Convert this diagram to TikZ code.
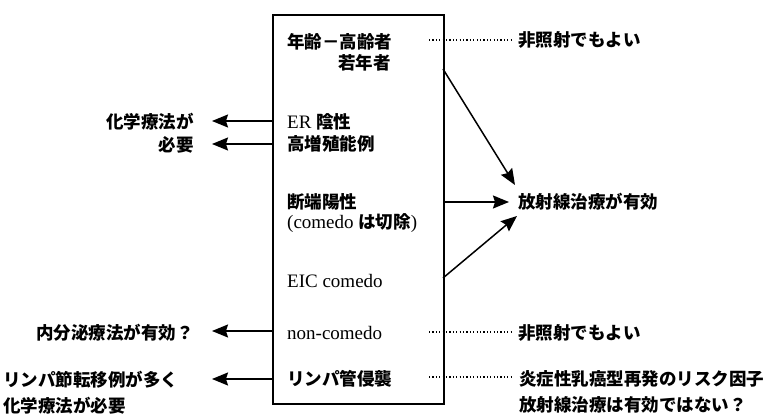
\documentclass[tikz,border=0pt]{standalone}
\usepackage{fontspec}
\setmainfont{Liberation Serif}
\newfontfamily\jpfam{Noto Sans CJK JP}
\usetikzlibrary{arrows.meta}
\newcommand{\J}[1]{{\fontsize{17.5}{20}\selectfont\jpfam\bfseries #1}}
\begin{document}
\begin{tikzpicture}[x=1pt,y=-1pt,
  txt/.style={inner sep=0pt, font=\fontsize{19}{22}\selectfont},
  arr/.style={line width=1.5pt, -{Stealth[length=16pt,width=13pt,inset=2pt]}},
  dots/.style={line width=1.3pt, dash pattern=on 1.2pt off 2.2pt},
  boxst/.style={draw, line width=1.8pt, inner sep=0pt, minimum width=171pt, minimum height=389pt, anchor=north west}]
\useasboundingbox (0,0) rectangle (779,419);
% box
\node[boxst] (box) at (272,14) {};
% inside texts
\node[txt,anchor=west] (a1) at (287,42) {\J{年齢－高齢者}};
\node[txt,anchor=west] (a2) at (338,63) {\J{若年者}};
\node[txt,anchor=west] (b1) at (287,122) {ER \J{陰性}};
\node[txt,anchor=west] (b2) at (287,144) {\J{高増殖能例}};
\node[txt,anchor=west] (c1) at (287,202) {\J{断端陽性}};
\node[txt,anchor=west] (c2) at (287,223) {(comedo \J{は切除})};
\node[txt,anchor=west] (d1) at (287,281) {EIC comedo};
\node[txt,anchor=west] (e1) at (287,333) {non-comedo};
\node[txt,anchor=west] (f1) at (287,379) {\J{リンパ管侵襲}};
% left labels
\node[txt,anchor=east] (L1) at (194,122) {\J{化学療法が}};
\node[txt,anchor=east] (L2) at (194,145) {\J{必要}};
\node[txt,anchor=east] (L3) at (194,333) {\J{内分泌療法が有効？}};
\node[txt,anchor=west] (L4) at (3,380) {\J{リンパ節転移例が多く}};
\node[txt,anchor=west] (L5) at (3,406) {\J{化学療法が必要}};
\coordinate (t1) at (212,121);
\coordinate (t2) at (212,144);
\coordinate (t3) at (212,331);
\coordinate (t4) at (212,379);
\draw[arr] (box.west |- t1) -- (t1);
\draw[arr] (box.west |- t2) -- (t2);
\draw[arr] (box.west |- t3) -- (t3);
\draw[arr] (box.west |- t4) -- (t4);
% right labels
\node[txt,anchor=west] (R1) at (518,40) {\J{非照射でもよい}};
\node[txt,anchor=west] (R2) at (518,202) {\J{放射線治療が有効}};
\node[txt,anchor=west] (R3) at (518,333) {\J{非照射でもよい}};
\node[txt,anchor=west] (R4) at (519,379) {\J{炎症性乳癌型再発のリスク因子}};
\node[txt,anchor=west] (R5) at (519,405) {\J{放射線治療は有効ではない？}};
% dotted
\coordinate (p1) at (429,40);
\coordinate (p3) at (429,332);
\coordinate (p4) at (429,377);
\draw[dots] (p1) -- ([xshift=-5pt]R1.west);
\draw[dots] (p3) -- ([xshift=-5pt]R3.west |- p3);
\draw[dots] (p4) -- ([xshift=-6pt]R4.west |- p4);
% radiation arrows
\coordinate (s1) at (443,69);
\coordinate (e1) at (515,185);
\coordinate (s3) at (443,278);
\coordinate (e3) at (517,216);
\draw[arr] (s1) -- (e1);
\draw[arr] (box.east |- R2) -- ([xshift=-9pt]R2.west);
\draw[arr] (s3) -- (e3);
\end{tikzpicture}
\end{document}
